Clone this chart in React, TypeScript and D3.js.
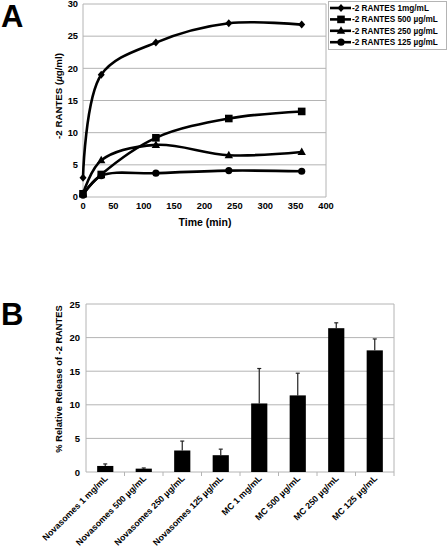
import React from "react";
import * as d3 from "d3";

const timePoints = [0, 30, 120, 240, 360];
const seriesNames = [
  "-2 RANTES 1mg/mL",
  "-2 RANTES 500 \u00b5g/mL",
  "-2 RANTES 250 \u00b5g/mL",
  "-2 RANTES 125 \u00b5g/mL",
];
const s1mg = [3, 19, 24, 27, 26.8];
const s500 = [0.5, 3.5, 9.2, 12.2, 13.3];
const s250 = [0.5, 5.7, 8.1, 6.5, 7.0];
const s125 = [0.3, 3.3, 3.7, 4.1, 4.0];
const seriesValues = [s1mg, s500, s250, s125];
const markerTypes = ["diamond", "square", "triangle", "circle"];
const xTicksA = [0, 50, 100, 150, 200, 250, 300, 350, 400];
const yTicksA = [0, 5, 10, 15, 20, 25, 30];

const categoriesB = [
  "Novasomes 1 mg/mL",
  "Novasomes 500 \u00b5g/mL",
  "Novasomes 250 \u00b5g/mL",
  "Novasomes 125 \u00b5g/mL",
  "MC 1 mg/mL",
  "MC 500 \u00b5g/mL",
  "MC 250 \u00b5g/mL",
  "MC 125 \u00b5g/mL",
];
const valuesB = [0.9, 0.5, 3.2, 2.5, 10.2, 11.4, 21.4, 18.1];
const errorsB = [0.3, 0.1, 1.4, 0.9, 5.2, 3.3, 0.8, 1.7];
const yTicksB = [0, 5, 10, 15, 20, 25];

const FONT = "'Liberation Sans', Arial, sans-serif";
const GRID = "#b4b4b4";

function Marker({ type, x, y }: { type: string; x: number; y: number }) {
  if (type === "diamond")
    return <path d={`M${x},${y - 4}L${x + 3.5},${y}L${x},${y + 4}L${x - 3.5},${y}Z`} fill="#000" />;
  if (type === "square") return <rect x={x - 3.8} y={y - 3.8} width={7.6} height={7.6} fill="#000" />;
  if (type === "triangle")
    return <path d={`M${x},${y - 4.5}L${x + 4.2},${y + 3}L${x - 4.2},${y + 3}Z`} fill="#000" />;
  return <circle cx={x} cy={y} r={3.6} fill="#000" />;
}

export default function App() {
  const xA = d3.scaleLinear().domain([0, 400]).range([83, 326]);
  const yA = d3.scaleLinear().domain([0, 30]).range([197, 4]);
  const line = d3
    .line<number>()
    .x((_, i) => xA(timePoints[i]))
    .y((d) => yA(d))
    .curve(d3.curveCatmullRom.alpha(0.5));

  const xB = d3.scaleBand<string>().domain(categoriesB).range([86, 394]);
  const yB = d3.scaleLinear().domain([0, 25]).range([472, 304]);
  const bw = xB.bandwidth() * 0.42;

  return (
    <svg width={448} height={551} style={{ position: "absolute", left: 0, top: 0 }} fontFamily={FONT}>
      <rect width={448} height={551} fill="#fff" />
      {/* Panel A */}
      <text x={1} y={26.5} fontSize={31} fontWeight="bold">A</text>
      {yTicksA.map((t) => (
        <g key={t}>
          <line x1={83} x2={326} y1={yA(t)} y2={yA(t)} stroke={GRID} strokeWidth={1} />
          <text x={78} y={yA(t) + 3.3} fontSize={9.3} fontWeight="bold" textAnchor="end">{t}</text>
        </g>
      ))}
      <line x1={326} x2={326} y1={yA(30)} y2={yA(0)} stroke={GRID} />
      <line x1={83} x2={83} y1={yA(30)} y2={yA(0)} stroke={GRID} />
      {xTicksA.map((t) => (
        <text key={t} x={xA(t)} y={209} fontSize={9.3} fontWeight="bold" textAnchor="middle">{t}</text>
      ))}
      <text x={205} y={226} fontSize={10.5} fontWeight="bold" textAnchor="middle">Time (min)</text>
      <text transform="translate(62,96) rotate(-90)" fontSize={9.7} fontWeight="bold" textAnchor="middle">
        -2 RANTES (<tspan fontStyle="italic">{"\u00b5"}</tspan>g/ml)
      </text>
      {seriesValues.map((vals, si) => (
        <g key={si}>
          <path d={line(vals) || ""} fill="none" stroke="#000" strokeWidth={2.6} />
          {vals.map((v, i) => (
            <Marker key={i} type={markerTypes[si]} x={xA(timePoints[i])} y={yA(v)} />
          ))}
        </g>
      ))}
      {/* legend */}
      <rect x={328.5} y={1.5} width={118} height={48} fill="#fff" stroke={GRID} />
      {seriesNames.map((n, i) => {
        const ly = 8 + i * 11.4;
        return (
          <g key={n}>
            <line x1={330} x2={351} y1={ly} y2={ly} stroke="#000" strokeWidth={2.6} />
            <Marker type={markerTypes[i]} x={341} y={ly} />
            <text x={352} y={ly + 3} fontSize={8.2} fontWeight="bold">{n}</text>
          </g>
        );
      })}

      {/* Panel B */}
      <text x={1} y={325} fontSize={31} fontWeight="bold">B</text>
      {yTicksB.map((t) => (
        <g key={t}>
          <line x1={86} x2={394} y1={yB(t)} y2={yB(t)} stroke={GRID} />
          <text x={80} y={yB(t) + 3.5} fontSize={9.5} fontWeight="bold" textAnchor="end">{t}</text>
        </g>
      ))}
      <line x1={394} x2={394} y1={yB(25)} y2={yB(0)} stroke={GRID} />
      <line x1={86} x2={86} y1={yB(25)} y2={yB(0)} stroke={GRID} />
      {categoriesB.map((c, i) => (
        <line key={"t" + i} x1={(xB(c) || 0) + xB.bandwidth()} x2={(xB(c) || 0) + xB.bandwidth()} y1={472} y2={476} stroke={GRID} />
      ))}
      <text transform="translate(62,379) rotate(-90)" fontSize={9.3} fontWeight="bold" textAnchor="middle">
        % Relative Release of -2 RANTES
      </text>
      {categoriesB.map((c, i) => {
        const cx = (xB(c) || 0) + xB.bandwidth() / 2;
        const top = yB(valuesB[i] + errorsB[i]);
        return (
          <g key={c}>
            <line x1={cx} x2={cx} y1={top} y2={yB(valuesB[i])} stroke="#222" strokeWidth={1.2} />
            <line x1={cx - 2} x2={cx + 2} y1={top} y2={top} stroke="#222" strokeWidth={1.2} />
            <rect x={cx - bw / 2} y={yB(valuesB[i])} width={bw} height={yB(0) - yB(valuesB[i])} fill="#000" />
            <text transform={`translate(${cx + 3},${479}) rotate(-45)`} fontSize={8.8} fontWeight="bold" textAnchor="end">
              {c}
            </text>
          </g>
        );
      })}
    </svg>
  );
}
